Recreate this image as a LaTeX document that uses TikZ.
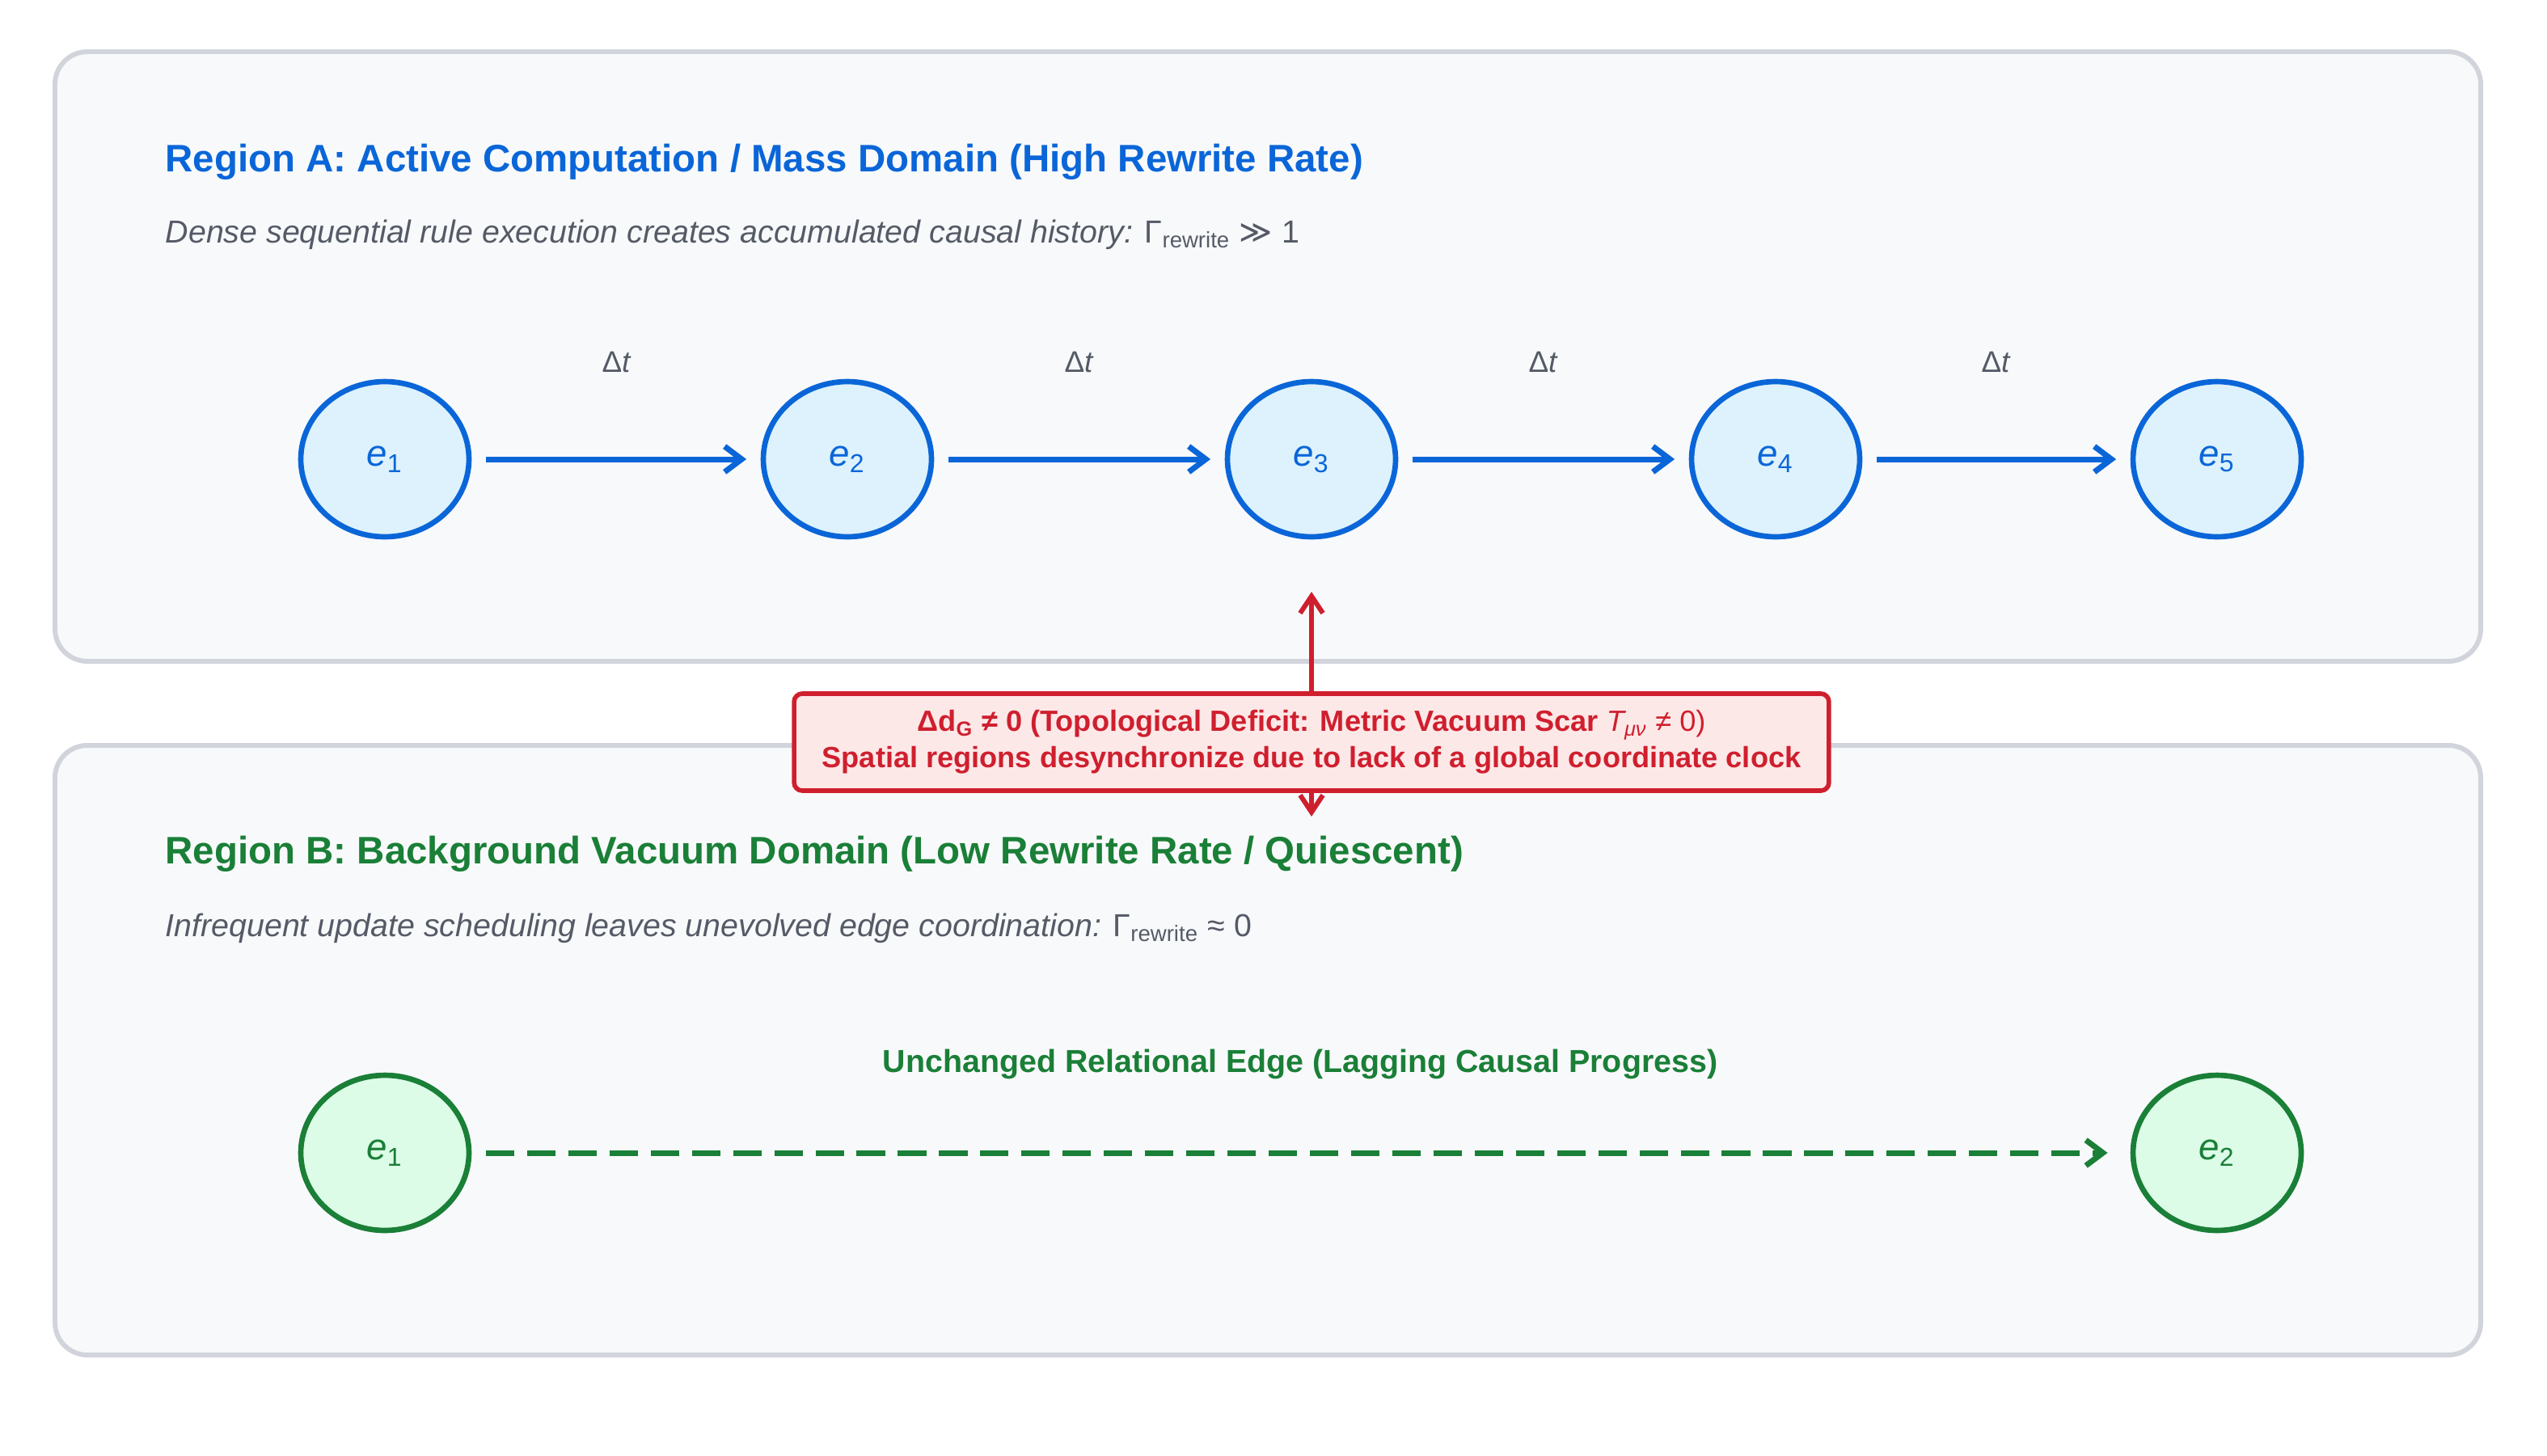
\documentclass[tikz,border=0pt]{standalone}
\usepackage{fontspec}
\setmainfont{Liberation Sans}
\newfontfamily\dejavu{DejaVu Sans}
\usetikzlibrary{arrows.meta,shapes.geometric}
\definecolor{panelfill}{HTML}{F8F9FB}
\definecolor{panelline}{HTML}{D1D5DB}
\definecolor{blueC}{HTML}{0A66D8}
\definecolor{bluefill}{HTML}{DDF2FD}
\definecolor{greenC}{HTML}{1A7F37}
\definecolor{greenfill}{HTML}{DCFCE7}
\definecolor{redC}{HTML}{CF1F2E}
\definecolor{redfill}{HTML}{FDE8E8}
\definecolor{grayT}{HTML}{555B66}
\begin{document}
\begin{tikzpicture}[x=0.02cm,y=-0.02cm,
  panel/.style={draw=panelline,fill=panelfill,line width=1.7pt,rounded corners=0.4cm},
  bnode/.style={ellipse,draw=blueC,fill=bluefill,line width=1.9pt,minimum width=2.08cm,minimum height=1.92cm,inner sep=0pt,text=blueC,font=\fontsize{13}{15}\selectfont},
  gnode/.style={ellipse,draw=greenC,fill=greenfill,line width=1.9pt,minimum width=2.08cm,minimum height=1.92cm,inner sep=0pt,text=greenC,font=\fontsize{13}{15}\selectfont},
  barrow/.style={draw=blueC,line width=2pt,-{Straight Barb[length=6pt,width=9pt,line width=2pt]}},
  title/.style={anchor=west,font=\bfseries\fontsize{13.5}{16}\selectfont,inner sep=0pt},
  sub/.style={anchor=west,font=\itshape\fontsize{11.2}{13}\selectfont,text=grayT,inner sep=0pt},
  dt/.style={font=\itshape\fontsize{10.5}{12}\selectfont,text=grayT}]
\useasboundingbox (0,0) rectangle (1575,900);
\fill[white] (0,0) rectangle (1575,900);
\draw[panel] (34,32) rectangle (1534,409);
\draw[panel] (34,461) rectangle (1534,838);

\node[title,text=blueC] (ta) at (102,100) {Region A: Active Computation / Mass Domain (High Rewrite Rate)};
\node[sub] (sa) at (102,145) {Dense sequential rule execution creates accumulated causal history: \upshape Γ\textsubscript{rewrite} {\dejavu ≫} 1};

\foreach \i/\x in {1/238,2/524,3/811,4/1098,5/1371}
  \node[bnode] (a\i) at (\x,284) {\itshape e\textsubscript{\upshape\i}};
\foreach \i/\j in {1/2,2/3,3/4,4/5}
  \draw[barrow] ([xshift=5]a\i.east) -- ([xshift=-5]a\j.west);
\foreach \x [count=\k] in {381,667,954,1234}
  \node[dt] (dt\k) at (\x,224) {\upshape Δ\itshape t};

\node[draw=redC,fill=redfill,line width=1.6pt,rounded corners=0.1cm,text=redC,align=center,
  font=\bfseries\fontsize{10.3}{12.8}\selectfont,minimum width=12.8cm,minimum height=1.2cm,inner sep=2pt] (box) at (811,459)
  {Δd\textsubscript{G} ≠ 0 (Topological Deficit: Metric Vacuum Scar {\mdseries\itshape T\textsubscript{μν}} {\mdseries≠ 0)}\\
   Spatial regions desynchronize due to lack of a global coordinate clock};
\coordinate (up) at (811,366);
\coordinate (dn) at (811,505);
\draw[redC,line width=1.7pt,-{Straight Barb[length=6pt,width=8pt,line width=1.7pt]}] (box.north) -- (up);
\draw[redC,line width=1.7pt,-{Straight Barb[length=6pt,width=8pt,line width=1.7pt]}] (box.south) -- (dn);

\node[title,text=greenC] (tb) at (102,528) {Region B: Background Vacuum Domain (Low Rewrite Rate / Quiescent)};
\node[sub] (sb) at (102,574) {Infrequent update scheduling leaves unevolved edge coordination: \upshape Γ\textsubscript{rewrite} ≈ 0};

\node[gnode] (b1) at (238,713) {\itshape e\textsubscript{\upshape 1}};
\node[gnode] (b2) at (1371,713) {\itshape e\textsubscript{\upshape 2}};
\node[text=greenC,font=\bfseries\fontsize{11.2}{13}\selectfont] (el) at (804,658) {Unchanged Relational Edge (Lagging Causal Progress)};
\draw[greenC,line width=2pt,dash pattern=on 10pt off 4.5pt,-{Straight Barb[length=6pt,width=9pt,line width=2pt]}] ([xshift=5]b1.east) -- ([xshift=-8]b2.west);
\end{tikzpicture}
\end{document}
